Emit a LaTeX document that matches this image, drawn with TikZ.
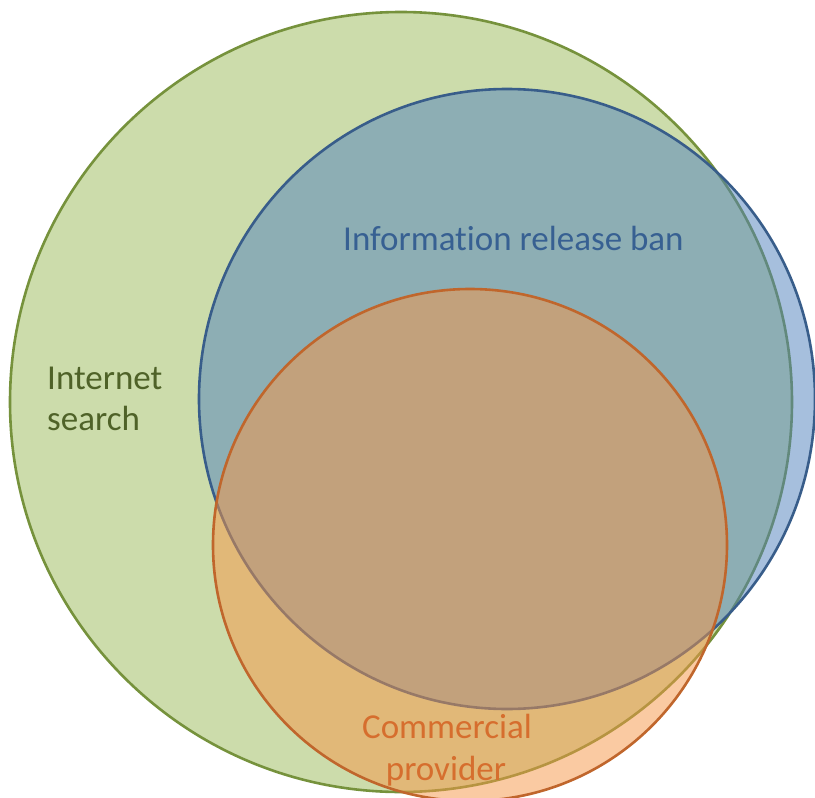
\documentclass[tikz,border=0pt]{standalone}
\usepackage{fontspec}
\setmainfont{Carlito}[Ligatures=NoCommon]
\usetikzlibrary{positioning}

\definecolor{searchfill}{HTML}{9BBB59}
\definecolor{searchline}{HTML}{76923C}
\definecolor{searchtext}{HTML}{4F6228}
\definecolor{banfill}{HTML}{4F81BD}
\definecolor{banline}{HTML}{385D8A}
\definecolor{bantext}{HTML}{376092}
\definecolor{providerfill}{HTML}{F79646}
\definecolor{providerline}{RGB}{192,102,44}
\definecolor{providertext}{RGB}{214,110,46}

\begin{document}
\begin{tikzpicture}
    [
        x = 1pt, y = -1pt,
        set/.style = {
            line width=2.6pt, fill opacity=0.5
            },
        settext/.style = {
            font=\fontsize{35}{41}\selectfont, inner sep=0pt
            },
    ]
    \fill[white] (0,0) rectangle (815,798);
    \useasboundingbox (0,0) rectangle (815,798);
    \clip (0,0) rectangle (815,798);
    % the three sets
    \filldraw[set, fill=searchfill, draw=searchline]
        (401,402) ellipse [x radius=391, y radius=390];
    \filldraw[set, fill=banfill, draw=banline]
        (507,399) ellipse [x radius=308, y radius=310];
    \filldraw[set, fill=providerfill, draw=providerline]
        (470,545) ellipse [x radius=257, y radius=256];
    % labels
    \node[settext, text=searchtext, anchor=base west] (search) at (47,389) {Internet};
    \node[settext, text=searchtext, anchor=base west] (search2) at (47,430) {search};
    \node[settext, text=bantext, anchor=base west] (ban) at (343,250) {Information release ban};
    \node[settext, text=providertext, anchor=base] (provider) at (447,738) {Commercial};
    \node[settext, text=providertext, anchor=base] (provider2) at (446,780) {provider};
\end{tikzpicture}
\end{document}
